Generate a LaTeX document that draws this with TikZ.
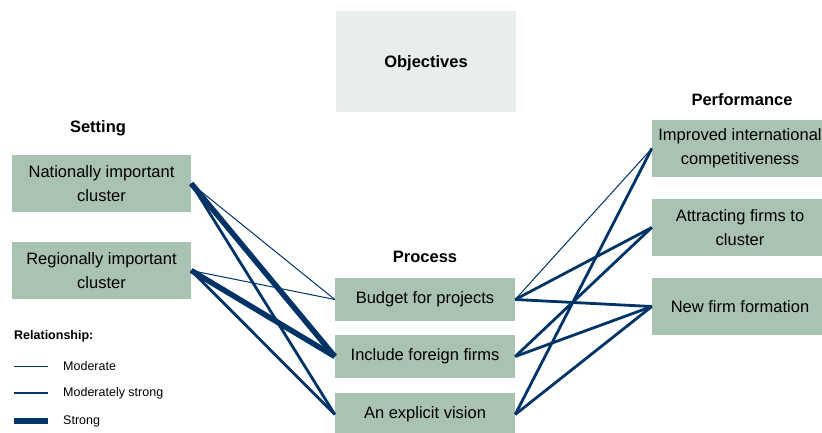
\documentclass[tikz,border=0pt]{standalone}
\usepackage{fontspec}
\setmainfont{Liberation Sans}
\definecolor{sage}{HTML}{A9C2B2}
\definecolor{palesage}{HTML}{E8EEEA}
\definecolor{linknavy}{HTML}{003366}

\begin{document}
\begin{tikzpicture}[x=1pt, y=-1pt,
    box/.style={rectangle, fill=sage, inner sep=0pt,
                minimum height=57pt, minimum width=179pt,
                font=\fontsize{16.5}{24}\selectfont, align=center},
    procbox/.style={box, minimum height=43pt, minimum width=180pt},
    perfbox/.style={box, minimum width=176pt},
    head/.style={font=\fontsize{16.5}{20}\selectfont\bfseries, inner sep=0pt},
    legtext/.style={font=\fontsize{12.5}{15}\selectfont, anchor=west, inner sep=0pt},
    moderate/.style ={linknavy, line width=1pt},
    modstrong/.style={linknavy, line width=2.8pt},
    strong/.style   ={linknavy, line width=5.5pt}
]
\useasboundingbox (0,0) rectangle (822,432);

% Objectives
\node[box, fill=palesage, minimum width=180pt, minimum height=101pt] (obj) at (426,61.5) {};
\node[head] (objt) at (426,63) {Objectives};

% Setting
\node[head] (sethead) at (98,128) {Setting};
\node[box] (nat) at (101.5,183.5) {Nationally important\\cluster};
\node[box] (reg) at (101.5,270.5) {Regionally important\\cluster};

% Process
\node[head] (prochead) at (425,257) {Process};
\node[procbox] (bud) at (425,299.5) {Budget for projects};
\node[procbox] (inc) at (425,356.5) {Include foreign firms};
\node[procbox] (vis) at (425,414.5) {An explicit vision};

% Performance
\node[head] (perfhead) at (742,100) {Performance};
\node[perfbox] (imp) at (740,148.5) {Improved international\\competitiveness};
\node[perfbox] (att) at (740,227.5) {Attracting firms to\\cluster};
\node[perfbox] (new) at (740,306.5) {New firm formation};

% Setting -> Process
\draw[moderate]  (nat.east) -- (bud.west);
\draw[strong]    (nat.east) -- (inc.west);
\draw[modstrong] (nat.east) -- (vis.west);
\draw[moderate]  (reg.east) -- (bud.west);
\draw[strong]    (reg.east) -- (inc.west);
\draw[modstrong] (reg.east) -- (vis.west);

% Process -> Performance
\draw[moderate]  (bud.east) -- (imp.west);
\draw[modstrong] (bud.east) -- (att.west);
\draw[modstrong] (bud.east) -- (new.west);
\draw[modstrong] (inc.east) -- (att.west);
\draw[modstrong] (inc.east) -- (new.west);
\draw[modstrong] (vis.east) -- (imp.west);
\draw[modstrong] (vis.east) -- (new.west);

% Legend
\node[legtext, font=\fontsize{12.5}{15}\selectfont\bfseries] (leghead) at (14,336) {Relationship:};
\coordinate (l1a) at (14,366); \coordinate (l1b) at (48,366);
\coordinate (l2a) at (14,393); \coordinate (l2b) at (48,393);
\coordinate (l3a) at (14,421); \coordinate (l3b) at (48,421);
\draw[moderate]  (l1a) -- (l1b);
\draw[modstrong] (l2a) -- (l2b);
\draw[line width=6pt, linknavy] (l3a) -- (l3b);
\node[legtext] (leg1) at (63,366) {Moderate};
\node[legtext] (leg2) at (63,393) {Moderately strong};
\node[legtext] (leg3) at (63,421) {Strong};

\end{tikzpicture}
\end{document}
